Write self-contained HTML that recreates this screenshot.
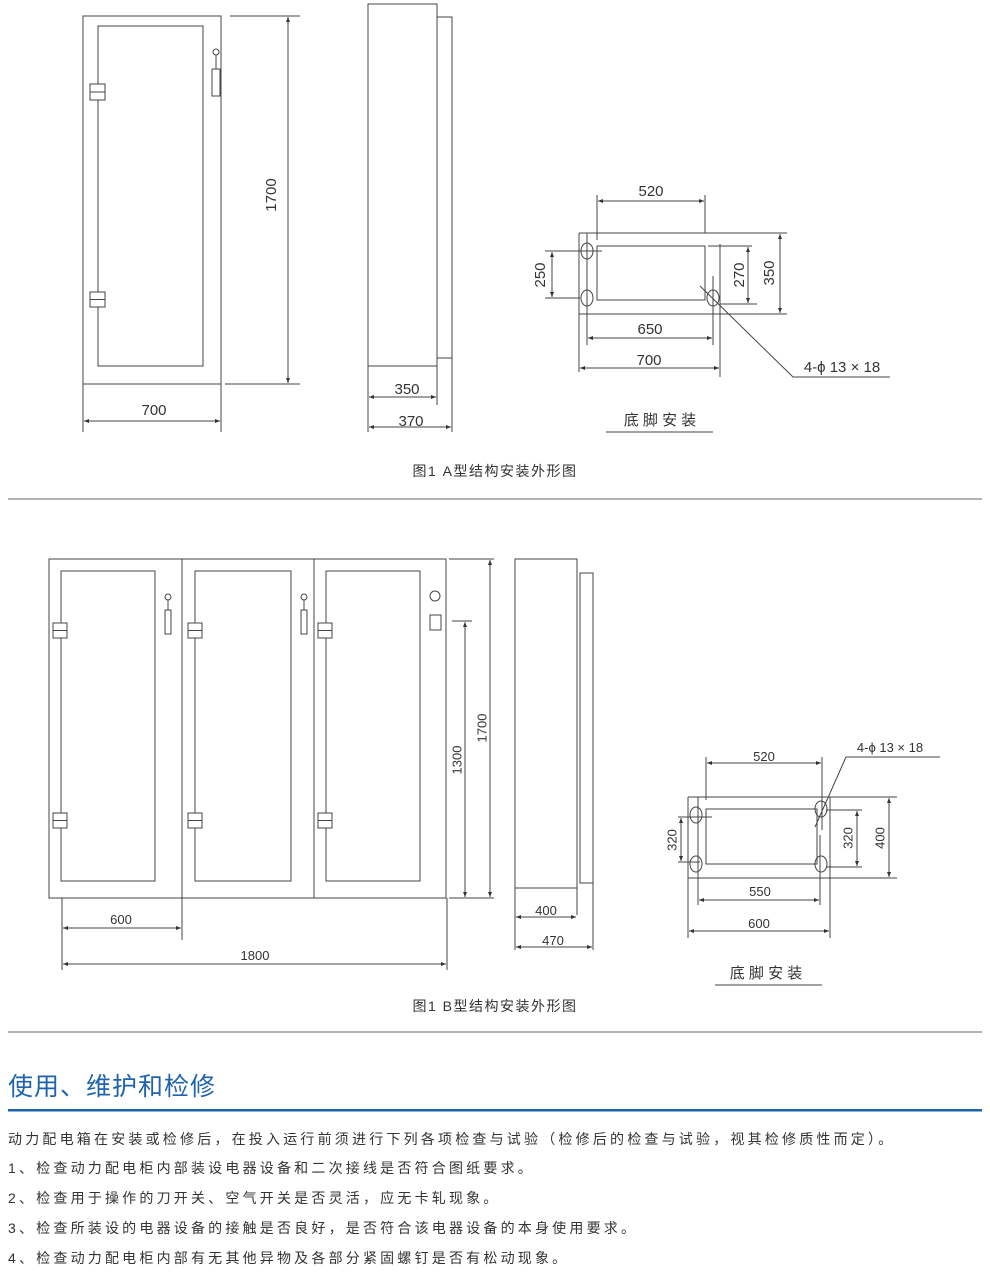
<!DOCTYPE html>
<html><head><meta charset="utf-8"><style>
html,body{margin:0;padding:0;background:#fff;}
body{width:990px;height:1280px;position:relative;overflow:hidden;font-family:"Liberation Sans","Noto Sans CJK SC",sans-serif;}
svg{position:absolute;left:0;top:0;}
.t{position:absolute;left:8px;font-size:14px;color:#333;letter-spacing:3.2px;white-space:nowrap;line-height:20px;}
</style></head><body>
<svg width="990" height="1280" viewBox="0 0 990 1280" font-family="Liberation Sans, Noto Sans CJK SC, sans-serif">
<defs>
<marker id="a" viewBox="0 0 10 10" refX="10" refY="5" markerWidth="7" markerHeight="5" orient="auto-start-reverse" markerUnits="userSpaceOnUse"><path d="M0,1 L10,5 L0,9 z" fill="#333"/></marker>
</defs>
<g stroke="#444" stroke-width="1" fill="none">
<rect x="83" y="16" width="138" height="368"/>
<rect x="98" y="26" width="105" height="340"/>
<rect x="90" y="84" width="15" height="16" fill="#fff"/><line x1="90" y1="92" x2="105" y2="92"/>
<rect x="90" y="292" width="15" height="15" fill="#fff"/><line x1="90" y1="299.5" x2="105" y2="299.5"/>
<circle cx="216" cy="52" r="3"/><line x1="216" y1="55" x2="216" y2="69"/>
<rect x="212" y="69" width="8" height="27"/>
<line x1="230" y1="16" x2="300" y2="16"/><line x1="225" y1="384" x2="300" y2="384"/>
<line x1="288" y1="17" x2="288" y2="383" marker-start="url(#a)" marker-end="url(#a)"/>
<line x1="83" y1="384" x2="83" y2="432"/><line x1="221" y1="384" x2="221" y2="432"/>
<line x1="84" y1="421" x2="220" y2="421" marker-start="url(#a)" marker-end="url(#a)"/>
<rect x="368" y="4" width="69" height="362"/>
<rect x="437" y="17" width="15" height="341"/>
<line x1="368" y1="366" x2="368" y2="432"/><line x1="437" y1="366" x2="437" y2="405"/><line x1="452" y1="358" x2="452" y2="432"/>
<line x1="369" y1="397" x2="436" y2="397" marker-start="url(#a)" marker-end="url(#a)"/>
<line x1="369" y1="427" x2="451" y2="427" marker-start="url(#a)" marker-end="url(#a)"/>
<line x1="579" y1="233" x2="787" y2="233"/><line x1="579" y1="314" x2="787" y2="314"/>
<line x1="579" y1="233" x2="579" y2="372"/><line x1="720" y1="244" x2="720" y2="377"/>
<rect x="597" y="246" width="108" height="54"/>
<ellipse cx="587" cy="251" rx="6" ry="8"/><ellipse cx="587" cy="298" rx="6" ry="8"/><ellipse cx="713" cy="298" rx="6" ry="8"/>
<line x1="587" y1="233" x2="587" y2="345"/><line x1="713" y1="276" x2="713" y2="345"/>
<line x1="597" y1="195" x2="597" y2="240"/><line x1="705" y1="195" x2="705" y2="233"/>
<line x1="598" y1="201" x2="704" y2="201" marker-start="url(#a)" marker-end="url(#a)"/>
<line x1="545" y1="251" x2="602" y2="251"/><line x1="545" y1="298" x2="580" y2="298"/>
<line x1="552" y1="252" x2="552" y2="297" marker-start="url(#a)" marker-end="url(#a)"/>
<line x1="708" y1="246" x2="752" y2="246"/><line x1="720" y1="304" x2="757" y2="304"/>
<line x1="748" y1="247" x2="748" y2="303" marker-start="url(#a)" marker-end="url(#a)"/>
<line x1="780" y1="234" x2="780" y2="313" marker-start="url(#a)" marker-end="url(#a)"/>
<line x1="588" y1="338" x2="712" y2="338" marker-start="url(#a)" marker-end="url(#a)"/>
<line x1="580" y1="368" x2="719" y2="368" marker-start="url(#a)" marker-end="url(#a)"/>
<polyline points="700,286 793,377 890,377"/>
<line x1="606" y1="432" x2="713" y2="432"/>
<line x1="8" y1="499" x2="982" y2="499" stroke="#666"/>
<rect x="49" y="559" width="397" height="339"/>
<line x1="182" y1="559" x2="182" y2="940"/><line x1="314" y1="559" x2="314" y2="898"/>
<rect x="61" y="571" width="94" height="310"/>
<rect x="195" y="571" width="96" height="310"/>
<rect x="326" y="571" width="94" height="310"/>
<g fill="#fff">
<rect x="53" y="623" width="14" height="15"/><rect x="53" y="813" width="14" height="15"/>
<rect x="188" y="623" width="14" height="15"/><rect x="188" y="813" width="14" height="15"/>
<rect x="318" y="623" width="14" height="15"/><rect x="318" y="813" width="14" height="15"/>
</g>
<line x1="53" y1="630.5" x2="67" y2="630.5"/><line x1="53" y1="820.5" x2="67" y2="820.5"/>
<line x1="188" y1="630.5" x2="202" y2="630.5"/><line x1="188" y1="820.5" x2="202" y2="820.5"/>
<line x1="318" y1="630.5" x2="332" y2="630.5"/><line x1="318" y1="820.5" x2="332" y2="820.5"/>
<circle cx="168" cy="597" r="3"/><line x1="168" y1="600" x2="168" y2="610"/><rect x="165" y="610" width="6" height="24"/>
<circle cx="304" cy="597" r="3"/><line x1="304" y1="600" x2="304" y2="610"/><rect x="301" y="610" width="6" height="24"/>
<circle cx="435" cy="596" r="5"/><rect x="430" y="615" width="11" height="15"/>
<line x1="449" y1="559" x2="494" y2="559"/><line x1="449" y1="898" x2="494" y2="898"/>
<line x1="490" y1="560" x2="490" y2="897" marker-start="url(#a)" marker-end="url(#a)"/>
<line x1="452" y1="621" x2="472" y2="621"/>
<line x1="465" y1="622" x2="465" y2="897" marker-start="url(#a)" marker-end="url(#a)"/>
<line x1="62" y1="898" x2="62" y2="970"/><line x1="447" y1="898" x2="447" y2="970"/>
<line x1="63" y1="928" x2="181" y2="928" marker-start="url(#a)" marker-end="url(#a)"/>
<line x1="63" y1="964" x2="446" y2="964" marker-start="url(#a)" marker-end="url(#a)"/>
<rect x="515" y="559" width="62" height="329"/>
<rect x="580" y="573" width="13" height="310"/>
<line x1="515" y1="888" x2="515" y2="950"/><line x1="577" y1="888" x2="577" y2="915"/><line x1="593" y1="883" x2="593" y2="950"/>
<line x1="516" y1="917" x2="576" y2="917" marker-start="url(#a)" marker-end="url(#a)"/>
<line x1="516" y1="947" x2="592" y2="947" marker-start="url(#a)" marker-end="url(#a)"/>
<line x1="688" y1="797" x2="897" y2="797"/><line x1="688" y1="878" x2="897" y2="878"/>
<line x1="688" y1="797" x2="688" y2="938"/><line x1="830" y1="797" x2="830" y2="938"/>
<rect x="706" y="809" width="111" height="55"/>
<ellipse cx="696" cy="815" rx="6" ry="8"/><ellipse cx="696" cy="864" rx="6" ry="8"/>
<ellipse cx="821" cy="809" rx="6" ry="8"/><ellipse cx="821" cy="864" rx="6" ry="8"/>
<line x1="698" y1="797" x2="698" y2="905"/><line x1="820" y1="835" x2="820" y2="905"/>
<line x1="706" y1="757" x2="706" y2="800"/><line x1="822" y1="757" x2="822" y2="830"/>
<line x1="707" y1="763" x2="821" y2="763" marker-start="url(#a)" marker-end="url(#a)"/>
<line x1="678" y1="817" x2="712" y2="817"/><line x1="678" y1="862" x2="700" y2="862"/>
<line x1="681" y1="818" x2="681" y2="861" marker-start="url(#a)" marker-end="url(#a)"/>
<line x1="826" y1="810" x2="862" y2="810"/><line x1="826" y1="867" x2="862" y2="867"/>
<line x1="857" y1="811" x2="857" y2="866" marker-start="url(#a)" marker-end="url(#a)"/>
<line x1="889" y1="798" x2="889" y2="877" marker-start="url(#a)" marker-end="url(#a)"/>
<line x1="699" y1="900" x2="819" y2="900" marker-start="url(#a)" marker-end="url(#a)"/>
<line x1="689" y1="931" x2="829" y2="931" marker-start="url(#a)" marker-end="url(#a)"/>
<polyline points="815,827 846,757 940,757"/>
<line x1="715" y1="985" x2="822" y2="985"/>
<line x1="8" y1="1032" x2="982" y2="1032" stroke="#666"/>
</g>
<g fill="#333" font-size="15" text-anchor="middle">
<text x="272" y="195" transform="rotate(-90 272 195)" dominant-baseline="middle">1700</text>
<text x="154" y="415">700</text>
<text x="407" y="394">350</text>
<text x="411" y="426">370</text>
<text x="651" y="196">520</text>
<text x="541" y="275" transform="rotate(-90 541 275)" dominant-baseline="middle">250</text>
<text x="740" y="275" transform="rotate(-90 740 275)" dominant-baseline="middle">270</text>
<text x="770" y="273" transform="rotate(-90 770 273)" dominant-baseline="middle">350</text>
<text x="650" y="334">650</text>
<text x="649" y="365">700</text>
<text x="842" y="372">4-ϕ 13 × 18</text>
<text x="660" y="425">底 脚 安 装</text>
<text x="495" y="476" font-size="14" letter-spacing="1.5">图1 A型结构安装外形图</text>
<g font-size="13">
<text x="483" y="728" transform="rotate(-90 483 728)" dominant-baseline="middle">1700</text>
<text x="458" y="760" transform="rotate(-90 458 760)" dominant-baseline="middle">1300</text>
<text x="121" y="924">600</text>
<text x="255" y="960">1800</text>
<text x="546" y="915">400</text>
<text x="553" y="945">470</text>
<text x="764" y="761">520</text>
<text x="673" y="840" transform="rotate(-90 673 840)" dominant-baseline="middle">320</text>
<text x="849" y="838" transform="rotate(-90 849 838)" dominant-baseline="middle">320</text>
<text x="881" y="838" transform="rotate(-90 881 838)" dominant-baseline="middle">400</text>
<text x="760" y="896">550</text>
<text x="759" y="928">600</text>
<text x="890" y="752">4-ϕ 13 × 18</text>
</g>
<text x="766" y="978">底 脚 安 装</text>
<text x="495" y="1011" font-size="14" letter-spacing="1.5">图1 B型结构安装外形图</text>
</g>
<text x="8" y="1095" font-size="25" fill="#1f63ad" letter-spacing="1">使用、维护和检修</text>
<rect x="8" y="1109" width="974" height="2.5" fill="#1f63ad"/>
</svg>
<div class="t" style="top:1129px">动力配电箱在安装或检修后，在投入运行前须进行下列各项检查与试验（检修后的检查与试验，视其检修质性而定）。</div>
<div class="t" style="top:1158px">1、检查动力配电柜内部装设电器设备和二次接线是否符合图纸要求。</div>
<div class="t" style="top:1188px">2、检查用于操作的刀开关、空气开关是否灵活，应无卡轧现象。</div>
<div class="t" style="top:1218px">3、检查所装设的电器设备的接触是否良好，是否符合该电器设备的本身使用要求。</div>
<div class="t" style="top:1248px">4、检查动力配电柜内部有无其他异物及各部分紧固螺钉是否有松动现象。</div>
</body></html>
